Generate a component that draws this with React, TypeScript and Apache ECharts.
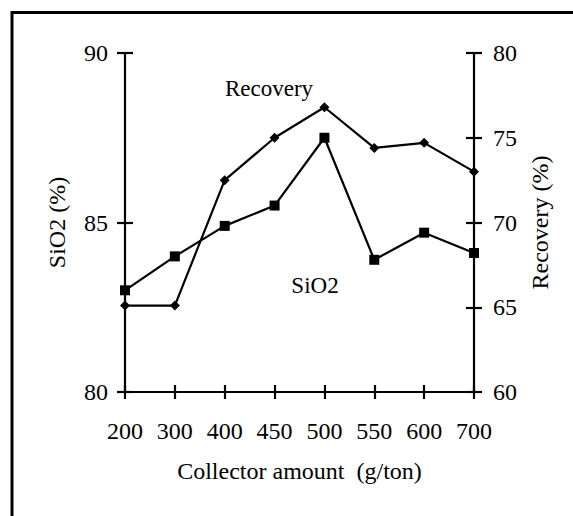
import React, { useEffect, useRef } from "react";
import * as echarts from "echarts";

const categories = ["200", "300", "400", "450", "500", "550", "600", "700"];
const sio2Values = [83.0, 84.0, 84.9, 85.5, 87.5, 83.9, 84.7, 84.1];
const recoveryValues = [65.1, 65.1, 72.5, 75.0, 76.8, 74.4, 74.7, 73.0];
const sio2Ticks = { min: 80, max: 90, interval: 5 };
const recoveryTicks = { min: 60, max: 80, interval: 5 };

const FONT = "Liberation Serif";

export default function App() {
  const ref = useRef<HTMLDivElement>(null);
  useEffect(() => {
    if (!ref.current) return;
    const chart = echarts.init(ref.current, null, { renderer: "svg" });
    const lineStyle = { color: "#000", width: 2.2 };
    const axisLineStyle = { color: "#000", width: 2.2 };
    const labelStyle = { color: "#000", fontSize: 24, fontFamily: FONT };
    const nameStyle = { color: "#000", fontSize: 24, fontFamily: FONT };
    const hiddenAxisBase = {
      axisLine: { show: false },
      axisLabel: { show: false },
      splitLine: { show: false },
    };
    chart.setOption({
      animation: false,
      backgroundColor: "#fff",
      textStyle: { fontFamily: FONT },
      grid: { left: 125, right: 99, top: 53, bottom: 124, containLabel: false },
      graphic: [
        {
          type: "rect",
          shape: { x: 12, y: 12.5, width: 800, height: 800 },
          style: { fill: "none", stroke: "#000", lineWidth: 3 },
          silent: true,
        },
        {
          type: "text",
          x: 269,
          y: 88,
          style: {
            text: "Recovery",
            fill: "#000",
            fontSize: 23,
            fontFamily: FONT,
            textAlign: "center",
            textVerticalAlign: "middle",
          },
        },
        {
          type: "text",
          x: 315,
          y: 285,
          style: {
            text: "SiO2",
            fill: "#000",
            fontSize: 23,
            fontFamily: FONT,
            textAlign: "center",
            textVerticalAlign: "middle",
          },
        },
      ],
      xAxis: [
        {
          type: "category",
          data: categories,
          boundaryGap: false,
          position: "bottom",
          name: "Collector amount  (g/ton)",
          nameLocation: "middle",
          nameGap: 67,
          nameTextStyle: nameStyle,
          axisLine: { onZero: false, lineStyle: axisLineStyle },
          axisTick: { show: true, length: 7, lineStyle: axisLineStyle, alignWithLabel: true },
          axisLabel: { ...labelStyle, margin: 27, interval: 0 },
          splitLine: { show: false },
        },
        {
          type: "category",
          data: categories,
          boundaryGap: false,
          position: "bottom",
          ...hiddenAxisBase,
          axisLine: { show: false, onZero: false },
          axisTick: { show: true, inside: true, length: 7, lineStyle: axisLineStyle },
        },
      ],
      yAxis: [
        {
          type: "value",
          position: "left",
          ...sio2Ticks,
          name: "SiO2 (%)",
          nameLocation: "middle",
          nameGap: 56,
          nameRotate: 90,
          nameTextStyle: nameStyle,
          axisLine: { show: true, lineStyle: axisLineStyle },
          axisTick: { show: true, length: 8, lineStyle: axisLineStyle },
          axisLabel: { ...labelStyle, margin: 17 },
          splitLine: { show: false },
        },
        {
          type: "value",
          position: "right",
          ...recoveryTicks,
          name: "Recovery (%)",
          nameLocation: "middle",
          nameGap: 54,
          nameRotate: 90,
          nameTextStyle: nameStyle,
          axisLine: { show: true, lineStyle: axisLineStyle },
          axisTick: { show: true, length: 8, lineStyle: axisLineStyle },
          axisLabel: { ...labelStyle, margin: 19 },
          splitLine: { show: false },
        },
        {
          type: "value",
          position: "left",
          ...sio2Ticks,
          ...hiddenAxisBase,
          axisTick: { show: true, inside: true, length: 8, lineStyle: axisLineStyle },
        },
        {
          type: "value",
          position: "right",
          ...recoveryTicks,
          ...hiddenAxisBase,
          axisTick: { show: true, inside: true, length: 8, lineStyle: axisLineStyle },
        },
      ],
      series: [
        {
          name: "SiO2",
          type: "line",
          xAxisIndex: 0,
          yAxisIndex: 0,
          data: sio2Values,
          symbol: "rect",
          symbolSize: 10,
          lineStyle,
          itemStyle: { color: "#000" },
        },
        {
          name: "Recovery",
          type: "line",
          xAxisIndex: 0,
          yAxisIndex: 1,
          data: recoveryValues,
          symbol: "diamond",
          symbolSize: 10,
          lineStyle,
          itemStyle: { color: "#000" },
        },
      ],
    });
    return () => chart.dispose();
  }, []);
  return (
    <div
      ref={ref}
      style={{ position: "absolute", left: 0, top: 0, width: 573, height: 516 }}
    />
  );
}
